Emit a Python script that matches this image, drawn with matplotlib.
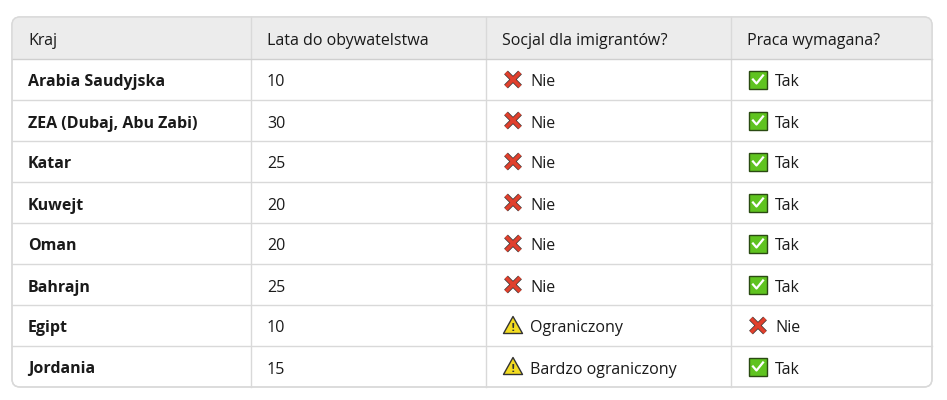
import matplotlib
matplotlib.use("Agg")
import matplotlib.pyplot as plt
from matplotlib.patches import FancyBboxPatch, Rectangle, Polygon

headers = ["Kraj", "Lata do obywatelstwa", "Socjal dla imigrantów?", "Praca wymagana?"]
countries = ["Arabia Saudyjska", "ZEA (Dubaj, Abu Zabi)", "Katar", "Kuwejt", "Oman", "Bahrajn", "Egipt", "Jordania"]
years = [10, 30, 25, 20, 20, 25, 10, 15]
welfare = ["Nie", "Nie", "Nie", "Nie", "Nie", "Nie", "Ograniczony", "Bardzo ograniczony"]
work = ["Tak", "Tak", "Tak", "Tak", "Tak", "Tak", "Nie", "Tak"]

FONT = "Open Sans"
FS = 11.5
fig = plt.figure(figsize=(9.47, 4.0), dpi=100)
ax = fig.add_axes([0, 0, 1, 1])
ax.set_xlim(0, 947); ax.set_ylim(400, 0); ax.axis("off")

X0, X1 = 12, 932
Y0, HH, RH = 17, 42, 41
cols = [12, 251, 486, 731, 932]
Y1 = Y0 + HH + RH * len(countries)
line = "#d9d9d9"

ax.add_patch(FancyBboxPatch((X0, Y0), X1 - X0, Y1 - Y0, boxstyle="round,pad=0,rounding_size=8",
                            fc="white", ec=line, lw=1, zorder=0))
hdr = FancyBboxPatch((X0, Y0), X1 - X0, Y1 - Y0, boxstyle="round,pad=0,rounding_size=8",
                     fc="#ececec", ec="none", zorder=0.5)
ax.add_patch(hdr)
hdr.set_clip_path(Rectangle((X0, Y0), X1 - X0, HH, transform=ax.transData))
ax.add_patch(FancyBboxPatch((X0, Y0), X1 - X0, Y1 - Y0, boxstyle="round,pad=0,rounding_size=8",
                            fc="none", ec=line, lw=1, zorder=3))
for c in cols[1:-1]:
    ax.plot([c, c], [Y0, Y1], color=line, lw=1, zorder=2)
for i in range(len(countries)):
    y = Y0 + HH + RH * i
    ax.plot([X0, X1], [y, y], color="#cfcfcf" if i == 0 else line, lw=1, zorder=2)

tc = "#1a1a1a"
for j, h in enumerate(headers):
    ax.text(cols[j] + 16, Y0 + HH / 2 + 1, h, fontsize=FS, family=FONT, color=tc, va="center_baseline", ha="left")

def icon(kind, x, yc):
    if kind == "Nie":
        for dx in (1, -1):
            ax.plot([x - 7 * dx, x + 7 * dx], [yc - 7, yc + 7], color="#333", lw=3.8, solid_capstyle="butt", zorder=4)
            ax.plot([x - 7 * dx, x + 7 * dx], [yc - 7, yc + 7], color="#e0402d", lw=2.8, solid_capstyle="butt", zorder=5)
    elif kind == "Tak":
        ax.add_patch(Rectangle((x - 9, yc - 9), 18, 18, fc="#5fc31f", ec="#2a4a12", lw=1, zorder=4))
        ax.plot([x - 5, x - 1.5, x + 5], [yc, yc + 4, yc - 4], color="white", lw=1.6, zorder=5)
    else:
        ax.add_patch(Polygon([(x, yc - 9), (x - 9.5, yc + 8), (x + 9.5, yc + 8)], closed=True,
                             fc="#f3dc21", ec="#333", lw=1, joinstyle="round", zorder=4))
        ax.text(x, yc + 2.5, "!", fontsize=7, ha="center", va="center", color="#333", weight="bold", zorder=5)

for i in range(len(countries)):
    yc = Y0 + HH + RH * i + RH / 2
    ty = yc + 1
    ax.text(cols[0] + 16, ty, countries[i], fontsize=FS, family=FONT, weight="bold", color=tc, va="center_baseline")
    ax.text(cols[1] + 16, ty, str(years[i]), fontsize=FS, family=FONT, color=tc, va="center_baseline")
    icon(welfare[i], cols[2] + 27, yc)
    ax.text(cols[2] + 44, ty, welfare[i], fontsize=FS, family=FONT, color=tc, va="center_baseline")
    icon(work[i], cols[3] + 27, yc)
    ax.text(cols[3] + 44, ty, work[i], fontsize=FS, family=FONT, color=tc, va="center_baseline")

fig.savefig("out.png", dpi=100, facecolor="white")
